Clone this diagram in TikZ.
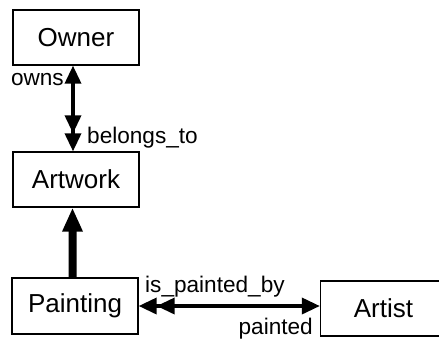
\documentclass[tikz,border=0pt]{standalone}
\usepackage{fontspec}
\setmainfont{Liberation Sans}
\usetikzlibrary{arrows.meta}
\begin{document}
\begin{tikzpicture}[x=1bp,y=-1bp,
  entity/.style={draw,line width=1.3bp,minimum width=126bp,minimum height=55bp,inner sep=0pt,
    font=\fontsize{26bp}{30bp}\selectfont},
  lbl/.style={inner sep=0pt,font=\fontsize{22.6bp}{26bp}\selectfont},
  rel/.style={line width=3.5bp},
  tipone/.tip={Triangle[length=18bp,width=16bp]},
  tiptwo/.tip={Triangle[length=18bp,width=16bp] Triangle[length=18bp,width=16bp]}
]
\useasboundingbox (0,0) rectangle (439,338);
\clip (0,0) rectangle (439,338);
\node[entity] (owner) at (76,37.5) {Owner};
\node[entity] (artwork) at (76,179.5) {Artwork};
\node[entity,minimum height=56bp] (painting) at (75,306) {Painting};
\node[entity] (artist) at (383.5,308.5) {Artist};

\draw[rel,{tipone}-{tiptwo}] ([xshift=-3bp]owner.south) -- ([xshift=-3bp]artwork.north);
\draw[line width=8bp,-{Triangle[length=24bp,width=19bp]}] ([xshift=-2.5bp]painting.north) -- ([xshift=-3.5bp]artwork.south);
\draw[rel,{tiptwo}-{tipone}] (painting.east) -- (painting.east -| artist.west);

\node[lbl,anchor=base east] (owns) at (64,85) {owns};
\node[lbl,anchor=base west] (belongs) at (87,143) {belongs\_to};
\node[lbl,anchor=base west] (ispainted) at (145,292) {is\_painted\_by};
\node[lbl,anchor=base east] (painted) at (313,334) {painted};
\end{tikzpicture}
\end{document}
